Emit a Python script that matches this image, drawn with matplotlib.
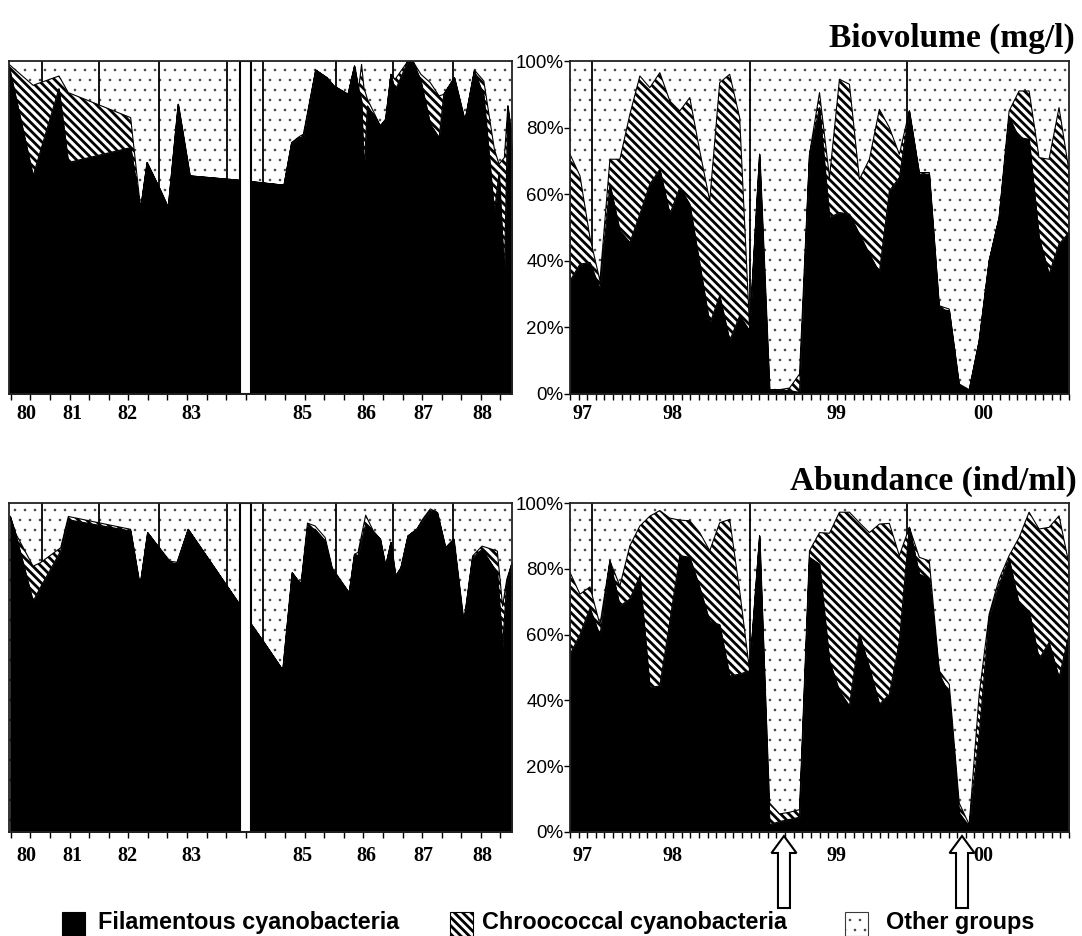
import numpy as np
import matplotlib
matplotlib.use("Agg")
import matplotlib.pyplot as plt
from matplotlib.patches import Rectangle, Polygon
from matplotlib import transforms
from matplotlib.backend_bases import GraphicsContextBase

# ---------------- data ----------------
# Biovolume 1980-1988 (decimal year), % of cyanobacteria groups
bv_early_year = [80.44, 80.85, 81.29, 81.45, 82.51, 82.68, 82.79, 83.01, 83.15, 83.32, 83.52, 84.35,
                 84.55, 85.12, 85.25, 85.38, 85.45, 85.66, 85.85, 85.97, 86.21, 86.32, 86.39, 86.44,
                 86.48, 86.54, 86.76, 86.85, 86.94, 87.01, 87.23, 87.32, 87.45, 87.61, 87.76, 87.84,
                 88.02, 88.20, 88.36, 88.52, 88.70, 88.78, 88.87, 88.93, 89.00]
bv_early_fil = [98.5, 65.5, 91.7, 69.5, 74.0, 55.5, 69.5, 61.5, 56.0, 87.0, 65.5, 64.2,
                63.8, 62.7, 75.3, 77.0, 77.0, 97.3, 95.0, 92.5, 90.0, 98.5, 91.5, 88.0,
                66.5, 86.5, 80.5, 82.5, 96.0, 91.0, 100.0, 99.7, 94.0, 81.0, 77.0, 90.0,
                95.0, 82.0, 97.0, 89.5, 54.5, 66.5, 35.5, 86.5, 73.5]
bv_early_cum = [99.0, 92.7, 95.5, 90.5, 83.0, 55.5, 69.5, 61.5, 56.0, 87.0, 65.5, 64.2,
                63.8, 62.7, 75.5, 77.3, 78.0, 97.3, 95.0, 92.5, 90.0, 98.5, 91.5, 99.0,
                92.0, 88.5, 80.5, 82.5, 96.0, 94.5, 100.0, 99.7, 96.0, 93.5, 89.5, 90.0,
                95.0, 82.0, 97.3, 94.0, 73.5, 69.0, 71.0, 86.5, 78.0]

# Abundance 1980-1988
ab_early_year = [80.46, 80.56, 80.85, 80.97, 81.32, 81.45, 82.51, 82.67, 82.80, 83.18, 83.30, 83.49,
                 84.33, 84.55, 84.77, 85.10, 85.26, 85.41, 85.52, 85.65, 85.82, 85.94, 86.23, 86.32,
                 86.38, 86.51, 86.64, 86.76, 86.85, 86.94, 87.02, 87.11, 87.23, 87.38, 87.48, 87.61,
                 87.73, 87.87, 88.01, 88.18, 88.33, 88.49, 88.75, 88.84, 88.91, 89.00]
ab_early_fil = [96.0, 90.0, 70.1, 74.2, 85.4, 94.9, 91.5, 74.7, 91.0, 81.8, 81.6, 92.0,
                70.1, 63.5, 57.9, 49.2, 78.8, 75.2, 92.6, 92.0, 88.5, 79.8, 72.7, 84.4,
                84.0, 93.6, 91.0, 89.0, 80.8, 88.0, 77.8, 80.3, 90.0, 92.0, 94.6, 97.7,
                97.1, 86.4, 89.0, 63.5, 83.4, 85.9, 78.8, 56.3, 75.7, 81.8]
ab_early_cum = [96.0, 90.5, 80.8, 81.8, 86.4, 95.9, 92.0, 74.7, 91.0, 82.3, 82.0, 92.0,
                70.1, 63.5, 57.9, 49.2, 78.8, 75.2, 93.9, 93.0, 89.5, 80.3, 72.7, 84.4,
                85.0, 96.3, 91.5, 89.0, 80.8, 88.0, 77.8, 80.3, 90.0, 92.0, 95.1, 98.2,
                97.1, 86.4, 89.0, 63.5, 83.9, 86.9, 85.4, 68.6, 76.7, 81.8]

# 1997-2000: samples 0..50
late_sample = list(range(51))
bv_late_fil = [34, 39, 39.5, 31.5, 63, 49, 45.5, 54, 63, 67.5, 54, 62, 57, 39, 21, 29.5, 16, 23.5,
               19, 72, 1.3, 1.3, 1, 0.5, 72, 86, 53, 54.5, 54, 48, 42, 36.5, 61, 65, 85, 66, 66,
               25.5, 25, 2.5, 1, 16, 40, 53, 83, 77, 76.5, 47, 36, 45, 48.5]
bv_late_cum = [72, 65.5, 47, 34, 70.5, 70.5, 84, 95.5, 92, 96.5, 88, 85, 89, 73, 58, 93.5, 96, 83,
               19.5, 72, 1.3, 1.3, 1.8, 6, 72, 90.5, 65, 94.5, 93, 64.5, 70.5, 85.5, 80, 72, 85,
               66.5, 66.5, 26.5, 25.5, 3, 1.3, 16, 40, 53, 85, 91, 91, 71, 70.5, 86, 67]
ab_late_fil = [54, 60, 68, 59.6, 82.4, 68.7, 70.8, 77.9, 43.9, 44.4, 64, 84, 83.5, 74.3, 64, 63,
               47.4, 48, 49, 90, 2.2, 3.2, 3.8, 4.5, 83.5, 81.4, 52, 42.8, 38.3, 60.1, 50, 38.8,
               41.8, 58, 92.6, 78.4, 76.9, 48, 41.8, 5.8, 1.7, 29.6, 65.2, 75.3, 83, 69.2, 67.2,
               52.5, 57.6, 46.9, 60.1]
ab_late_cum = [78.9, 72.3, 74.5, 63, 82.4, 74.8, 87, 93, 96, 97.7, 95.4, 94.8, 94.6, 91, 85.5, 94,
               95, 73.3, 49, 90, 8.8, 5.5, 6, 6.8, 85.5, 91, 90.8, 97.2, 97.2, 94, 91, 93.6, 93.8,
               84, 92.6, 83.5, 82.4, 49, 44.9, 8.8, 2.2, 41.8, 66.2, 76.9, 84, 89.5, 97.2, 92.1,
               92.6, 96.1, 81.4]

early_labels = ["80", "81", "82", "83", "85", "86", "87", "88"]
early_label_pos = [80.74, 81.51, 82.45, 83.54, 85.43, 86.53, 87.49, 88.49]
early_vlines = [81.0, 81.98, 82.99, 84.15, 84.77, 86.0, 86.98, 87.99]
early_gap = [84.37, 84.55]
early_xlim = [80.44, 89.0]

late_labels = ["97", "98", "99", "00"]
late_label_pos = [1.3, 10.3, 26.75, 41.4]
late_vlines = [2.17, 18.0, 33.8]
late_xlim = [0, 50]
arrow_samples = [21.44, 39.28]

pct_ticks = [0, 20, 40, 60, 80, 100]
legend_names = ["Filamentous cyanobacteria", "Chroococcal cyanobacteria", "Other groups"]

# ---------------- styling helpers ----------------
_orig_ghp = GraphicsContextBase.get_hatch_path
def _ghp(self, density=6.0):
    h = self.get_hatch()
    if h and set(h) == {"."}:
        density = 10
    return _orig_ghp(self, density)
GraphicsContextBase.get_hatch_path = _ghp

STRIPE_LW = 2.0
DOT_LW = 0.4
plt.rcParams["hatch.linewidth"] = STRIPE_LW
STRIPE = "\\\\\\\\"
DOTS = "."
SERIF = "Liberation Serif"
SANS = "Liberation Sans"

W, H = 1082, 936
fig = plt.figure(figsize=(W / 100, H / 100), dpi=100)


def hatch_lw(artist, lw):
    if hasattr(artist, "set_hatch_linewidth"):
        artist.set_hatch_linewidth(lw)
    elif hasattr(artist, "_hatch_linewidth"):
        artist._hatch_linewidth = lw


def ax_rect(x0, y0, x1, y1):
    return [x0 / W, 1 - y1 / H, (x1 - x0) / W, (y1 - y0) / H]


def dotted_bg(ax):
    bg = Rectangle((0, 0), 1, 1, transform=ax.transAxes, facecolor="white",
                   edgecolor="#3a3a3a", hatch=DOTS, lw=0, zorder=0.5)
    hatch_lw(bg, DOT_LW)
    ax.add_patch(bg)


def draw_panel(ax, x, fil, cum, xlim, vlines, ticks):
    ax.set_xlim(*xlim)
    ax.set_ylim(0, 100)
    dotted_bg(ax)
    for v in vlines:
        ax.axvline(v, color="black", lw=1.3, zorder=1)
    hc = ax.fill_between(x, fil, cum, facecolor="white", edgecolor="black",
                         hatch=STRIPE, lw=0.8, zorder=2)
    hatch_lw(hc, STRIPE_LW)
    ax.fill_between(x, 0, fil, facecolor="black", edgecolor="black", lw=0.6, zorder=3)
    for s in ax.spines.values():
        s.set_color("#222222")
        s.set_linewidth(1.3)
        s.set_zorder(10)
    ax.set_xticks(ticks)
    ax.tick_params(axis="x", direction="out", length=4, width=1.0, labelbottom=False)


def year_labels(ax, labels, pos, ypix):
    tr = transforms.blended_transform_factory(ax.transData, fig.transFigure)
    for lab, p in zip(labels, pos):
        ax.text(p, 1 - ypix / H, lab, transform=tr, ha="center", va="center",
                fontfamily=SERIF, fontweight="bold", fontsize=14.5, clip_on=False)


early_ticks = np.arange(early_xlim[0] + 0.03, early_xlim[1] + 1e-6, 1 / 3)
late_ticks = np.linspace(late_xlim[0], late_xlim[1], 59)

ax_tl = fig.add_axes(ax_rect(9, 61, 512, 394))
ax_tr = fig.add_axes(ax_rect(570, 61, 1069, 394))
ax_bl = fig.add_axes(ax_rect(9, 503, 512, 832))
ax_br = fig.add_axes(ax_rect(570, 503, 1069, 832))

for ax, fil, cum in [(ax_tl, bv_early_fil, bv_early_cum), (ax_bl, ab_early_fil, ab_early_cum)]:
    yr = bv_early_year if ax is ax_tl else ab_early_year
    draw_panel(ax, yr, fil, cum, early_xlim, early_vlines, early_ticks)
    ax.tick_params(axis="y", left=False, labelleft=False)
    ax.add_patch(Rectangle((early_gap[0], 0), early_gap[1] - early_gap[0], 100,
                           facecolor="white", edgecolor="black", lw=1.5, zorder=6))

for ax, fil, cum in [(ax_tr, bv_late_fil, bv_late_cum), (ax_br, ab_late_fil, ab_late_cum)]:
    draw_panel(ax, late_sample, fil, cum, late_xlim, late_vlines, late_ticks)
    ax.set_yticks(pct_ticks)
    ax.set_yticklabels([f"{p}%" for p in pct_ticks], fontfamily=SANS, fontsize=13.5)
    ax.tick_params(axis="y", direction="out", length=4, width=1.0, pad=0.5)

year_labels(ax_tl, early_labels, early_label_pos, 414)
year_labels(ax_bl, early_labels, early_label_pos, 856)
year_labels(ax_tr, late_labels, late_label_pos, 414)
year_labels(ax_br, late_labels, late_label_pos, 856)

fig.text(1075 / W, 1 - 38 / H, "Biovolume (mg/l)", ha="right", va="center",
         fontfamily=SERIF, fontweight="bold", fontsize=24)
fig.text(1077 / W, 1 - 481 / H, "Abundance (ind/ml)", ha="right", va="center",
         fontfamily=SERIF, fontweight="bold", fontsize=24)

# hollow arrows under the lower right panel
ident = transforms.IdentityTransform()
for s in arrow_samples:
    xc = ax_br.transData.transform((s, 0))[0]
    tip, base, bottom = H - 836, H - 853, H - 908
    verts = [(xc, tip), (xc + 12.5, base), (xc + 6, base), (xc + 6, bottom),
             (xc - 6, bottom), (xc - 6, base), (xc - 12.5, base)]
    fig.add_artist(Polygon(verts, closed=True, facecolor="white", edgecolor="black",
                           lw=1.5, transform=ident))

# legend
leg_square_x = [62, 450, 845]
leg_text_x = [98, 482, 886]
styles = [dict(facecolor="black", edgecolor="black", hatch=None),
          dict(facecolor="white", edgecolor="black", hatch=STRIPE),
          dict(facecolor="white", edgecolor="#3a3a3a", hatch=DOTS)]
for sx, tx, name, st in zip(leg_square_x, leg_text_x, legend_names, styles):
    r = Rectangle((sx, 0.5), 23, 24, transform=ident, lw=0.8, **st)
    if st["hatch"] == DOTS:
        hatch_lw(r, DOT_LW)
    elif st["hatch"] == STRIPE:
        hatch_lw(r, STRIPE_LW)
    fig.add_artist(r)
    fig.text(tx / W, 1 - 922 / H, name, ha="left", va="center",
             fontfamily=SANS, fontweight="bold", fontsize=16.8)

fig.savefig("out.png", dpi=100)
